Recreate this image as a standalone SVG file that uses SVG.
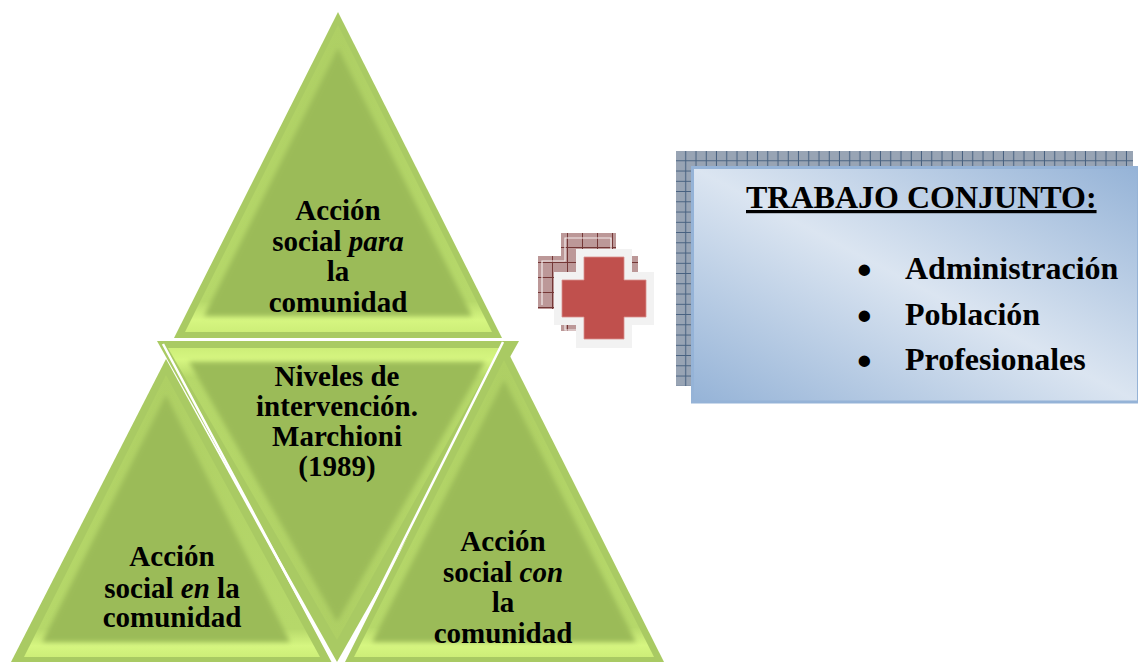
<svg xmlns="http://www.w3.org/2000/svg" width="1138" height="664" viewBox="0 0 1138 664">
<style>
text{font-family:"Liberation Serif","Times New Roman",serif;font-weight:700;fill:#000}
.t{font-size:29px;text-anchor:middle}
.b{font-size:32px}
.d{font-size:42px}
.o{fill:#a9ca63}
.up{fill:url(#gUp)}
.dn{fill:url(#gDn)}
.f{fill:#9bbb59;filter:url(#bl)}
.sep{stroke:#fff;stroke-width:2.5;fill:none}
</style>
<defs>
<linearGradient id="gUp" x1="0" y1="0" x2="0" y2="1"><stop offset="0" stop-color="#aecf64"/><stop offset=".9" stop-color="#b6d86a"/><stop offset=".96" stop-color="#d6f681"/><stop offset="1" stop-color="#cdee78"/></linearGradient>
<linearGradient id="gDn" x1="0" y1="1" x2="0" y2="0"><stop offset="0" stop-color="#aecf64"/><stop offset=".9" stop-color="#b6d86a"/><stop offset=".96" stop-color="#d6f681"/><stop offset="1" stop-color="#cdee78"/></linearGradient>
<linearGradient id="gBox" x1="0" y1="1" x2="1" y2="0"><stop offset="0" stop-color="#95b3d7"/><stop offset=".5" stop-color="#dbe5f1"/><stop offset="1" stop-color="#95b3d7"/></linearGradient>
<filter id="bl" x="-20%" y="-20%" width="140%" height="140%"><feGaussianBlur stdDeviation="2.500"/></filter>
<clipPath id="c1"><polygon points="338,25 185,332 492,332"/></clipPath>
<clipPath id="c2"><polygon points="168,348 500,348 337,640"/></clipPath>
<clipPath id="c3"><polygon points="166,375 24,657 320,657"/></clipPath>
<clipPath id="c4"><polygon points="504,360 354,657 654,657"/></clipPath>
<pattern id="pBlue" width="10.25" height="10.25" patternUnits="userSpaceOnUse" x="676" y="151"><rect width="10.25" height="10.25" fill="#98a4b4"/><path d="M9.75 0V10.25M0 9.75H10.25" stroke="#46607f" stroke-width="1"/></pattern>
<pattern id="pRed" width="15" height="15" patternUnits="userSpaceOnUse" x="538" y="233"><rect width="15" height="15" fill="#bc9898"/><path d="M14.5 0V15M0 14.5H15" stroke="#743736" stroke-width="1"/></pattern>
</defs>

<g id="node-niveles">
<polygon class="o" points="157,341 519,341 337,662"/>
<polygon class="dn" points="168,348 500,348 337,640"/>
<g clip-path="url(#c2)"><polygon class="f" points="189,362 485,362 337,622"/></g>
<text class="t" x="337" y="386">Niveles de</text>
<text class="t" x="337" y="416">intervención.</text>
<text class="t" x="337" y="446">Marchioni</text>
<text class="t" x="337" y="476">(1989)</text>
</g>

<g id="node-para">
<polygon class="o" points="338,12 174,338 502,338"/>
<polygon class="up" points="338,25 185,332 492,332"/>
<g clip-path="url(#c1)"><polygon class="f" points="338,48 204,316 472,316"/></g>
<text class="t" x="338" y="220">Acción</text>
<text class="t" x="338" y="251">social <tspan font-style="italic">para</tspan></text>
<text class="t" x="338" y="281">la</text>
<text class="t" x="338" y="312">comunidad</text>
</g>

<g id="node-en">
<polygon class="o" points="166,359 11,662 333,662"/>
<polygon class="up" points="166,375 24,657 320,657"/>
<g clip-path="url(#c3)"><polygon class="f" points="166,395 42,642 290,642"/></g>
<text class="t" x="172" y="566">Acción</text>
<text class="t" x="172" y="598">social <tspan font-style="italic">en</tspan> la</text>
<text class="t" x="172" y="627">comunidad</text>
</g>

<g id="node-con">
<polygon class="o" points="504,344 345,662 664,662"/>
<polygon class="up" points="504,360 354,657 654,657"/>
<g clip-path="url(#c4)"><polygon class="f" points="504,380 372,642 636,642"/></g>
<text class="t" x="503" y="551">Acción</text>
<text class="t" x="503" y="582">social <tspan font-style="italic">con</tspan></text>
<text class="t" x="503" y="612">la</text>
<text class="t" x="503" y="643">comunidad</text>
</g>

<g id="connectors">
<path class="sep" d="M163 344L334 664M503 342L342 664"/>
</g>

<g id="node-plus">
<path fill="url(#pRed)" d="M561 233H616V256H638V309H616V331H561V309H538V256H561Z"/>
<path fill="none" stroke="#f3ecec" stroke-width="1.2" d="M542 305V261H565V238H611V262M565 261V238M565 325V330H576"/>
<path fill="#f2f2f2" d="M576 249H632V272H654V325H632V348H576V325H554V272H576Z"/>
<path fill="#c0504d" stroke="#d98f8d" stroke-width=".8" d="M584 257H624V280H646V317H624V339H584V317H562V280H584Z"/>
</g>

<g id="node-trabajo">
<rect x="676" y="151" width="457" height="235" fill="url(#pBlue)"/>
<rect x="692.500" y="167.500" width="446" height="234.500" fill="url(#gBox)" stroke="#95b3d7" stroke-width="3"/>
<text x="746" y="208" font-size="32" text-decoration="underline">TRABAJO CONJUNTO:</text>
<text class="d" x="857" y="284">•</text>
<text class="b" x="905" y="279">Administración</text>
<text class="d" x="857" y="330">•</text>
<text class="b" x="905" y="325">Población</text>
<text class="d" x="857" y="375">•</text>
<text class="b" x="905" y="370">Profesionales</text>
</g>
</svg>
